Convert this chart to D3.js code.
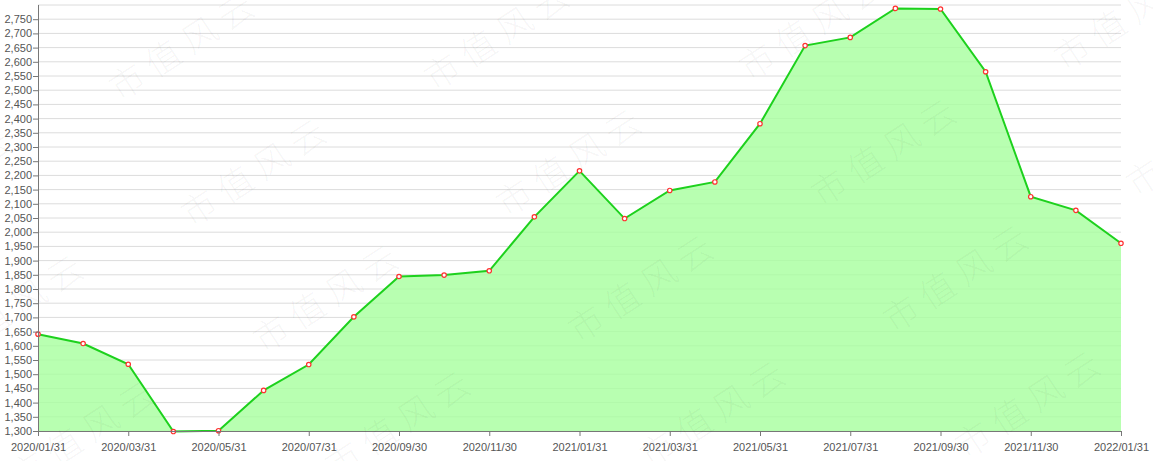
<!DOCTYPE html>
<html>
<head>
<meta charset="utf-8">
<script src="https://cdn.jsdelivr.net/npm/d3@7"></script>
<style>
  body { margin: 0; background: #fff; }
  svg { display: block; font-family: "Segoe UI", "Open Sans", "DejaVu Sans", sans-serif; }
  .tick text { fill: #555; font-size: 11px; }
</style>
</head>
<body>
<svg id="canvas" width="1153" height="461"></svg>
<script>
const DATES = ["2020/01/31","2020/02/29","2020/03/31","2020/04/30","2020/05/31","2020/06/30",
  "2020/07/31","2020/08/31","2020/09/30","2020/10/31","2020/11/30","2020/12/31",
  "2021/01/31","2021/02/28","2021/03/31","2021/04/30","2021/05/31","2021/06/30",
  "2021/07/31","2021/08/31","2021/09/30","2021/10/31","2021/11/30","2021/12/31","2022/01/31"];
const VALUES = [1641, 1608, 1535, 1298, 1301, 1443, 1534, 1702, 1844, 1849, 1864, 2054,
  2216, 2048, 2147, 2177, 2382, 2657, 2686, 2788, 2786, 2565, 2125, 2077, 1961];
const Y_TICKS = d3.range(1300, 2751, 50);
const X_LABELS = DATES.filter((d, i) => i % 2 === 0);
const WATERMARK = "市值风云";

let svg = d3.select('#canvas')
let margin = {left: 38, right: 32, top: 5, bottom: 30}
let width = 1153 - margin.left - margin.right
let height = 461 - margin.top - margin.bottom

let xScale = d3.scalePoint().domain(DATES).range([0, width])
let yScale = d3.scaleLinear().domain([1300, 2800]).range([height, 0])

let g = svg.append('g').attr('transform', 'translate(' + margin.left + ',' + margin.top + ')')

// grid lines
g.append('g')
  .selectAll('line')
  .data(Y_TICKS.concat([2800]))
  .enter()
  .append('line')
  .attr('x1', 0)
  .attr('x2', width)
  .attr('y1', d => yScale(d))
  .attr('y2', d => yScale(d))
  .attr('stroke', '#dcdcdc')
  .attr('stroke-width', 1)

let area = d3.area()
  .x((d, i) => xScale(DATES[i]))
  .y0(height)
  .y1(d => yScale(d))

let line = d3.line()
  .x((d, i) => xScale(DATES[i]))
  .y(d => yScale(d))

g.append('path')
  .datum(VALUES)
  .attr('d', area)
  .attr('fill', '#a6ff9e')
  .attr('fill-opacity', 0.8)

g.append('path')
  .datum(VALUES)
  .attr('d', line)
  .attr('fill', 'none')
  .attr('stroke', '#1dd11d')
  .attr('stroke-width', 2)

g.selectAll('circle')
  .data(VALUES)
  .enter()
  .append('circle')
  .attr('cx', (d, i) => xScale(DATES[i]))
  .attr('cy', d => yScale(d))
  .attr('r', 2.2)
  .attr('fill', '#fff')
  .attr('stroke', '#ff3030')
  .attr('stroke-width', 1.2)

// axes
let yAxis = d3.axisLeft(yScale)
  .tickValues(Y_TICKS)
  .tickSize(5)
  .tickFormat(d3.format(','))

let yG = g.append('g').call(yAxis)
yG.select('.domain').attr('stroke', '#777').attr('d', 'M0.5,' + height + 'V0')
yG.selectAll('.tick line').attr('stroke', '#777')
yG.selectAll('.tick text').attr('x', -6)

let xAxis = d3.axisBottom(xScale)
  .tickValues(X_LABELS)
  .tickSize(5)

let xG = g.append('g').attr('transform', 'translate(0,' + height + ')').call(xAxis)
xG.select('.domain').attr('stroke', '#777').attr('d', 'M0,0.5H' + width)
xG.selectAll('.tick line').attr('stroke', '#777')
xG.selectAll('.tick text').attr('dy', '1.1em')

// watermark, clipped to the picture
svg.append('clipPath').attr('id', 'wm-clip')
  .append('rect').attr('width', 1153).attr('height', 461)

let marks = []
for (let r = -1; r < 5; r++) {
  for (let c = -1; c < 5; c++) {
    marks.push([185 + c * 315 + r * 72, 45 - c * 10 + r * 126])
  }
}
svg.append('g')
  .attr('clip-path', 'url(#wm-clip)')
  .selectAll('text')
  .data(marks)
  .enter()
  .append('text')
  .attr('transform', d => 'translate(' + d[0] + ',' + d[1] + ') rotate(-33)')
  .attr('text-anchor', 'middle')
  .attr('dy', '0.35em')
  .style('font-family', '"Noto Sans CJK SC", sans-serif')
  .style('font-size', '35px')
  .style('font-weight', 300)
  .style('letter-spacing', '8px')
  .attr('fill', '#000')
  .attr('fill-opacity', 0.045)
  .text(WATERMARK)
</script>
</body>
</html>
